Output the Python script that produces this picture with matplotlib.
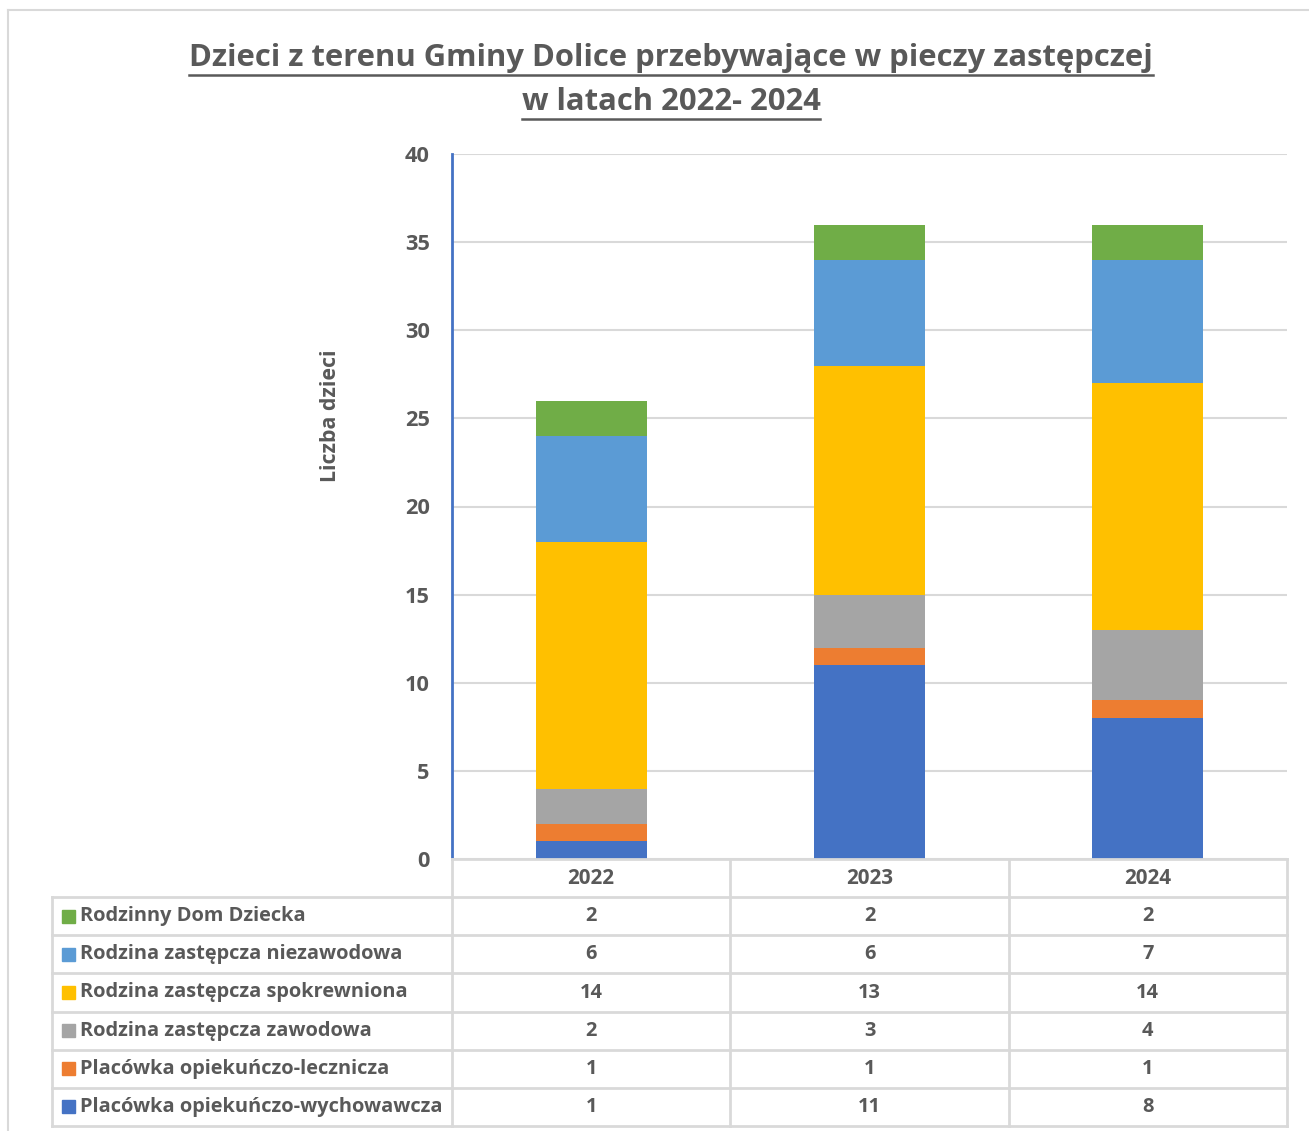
import matplotlib
matplotlib.use("Agg")
import matplotlib.pyplot as plt
from matplotlib.lines import Line2D
from matplotlib.patches import Rectangle
import numpy as np

plt.rcParams['font.family'] = ['Open Sans', 'DejaVu Sans']

## DATA

years = ['2022', '2023', '2024']
series_names = [
    'Placówka opiekuńczo-wychowawcza',
    'Placówka opiekuńczo-lecznicza',
    'Rodzina zastępcza zawodowa',
    'Rodzina zastępcza spokrewniona',
    'Rodzina zastępcza niezawodowa',
    'Rodzinny Dom Dziecka',
]
wychowawcza = [1, 11, 8]
lecznicza = [1, 1, 1]
zawodowa = [2, 3, 4]
spokrewniona = [14, 13, 14]
niezawodowa = [6, 6, 7]
rdd = [2, 2, 2]
series_values = [wychowawcza, lecznicza, zawodowa, spokrewniona, niezawodowa, rdd]
colors = ['#4472C4', '#ED7D31', '#A5A5A5', '#FFC000', '#5B9BD5', '#70AD47']

title_lines = ['Dzieci z terenu Gminy Dolice przebywające w pieczy zastępczej',
               'w latach 2022- 2024']
y_label = 'Liczba dzieci'

TXT = '#595959'
GRID = '#D9D9D9'
W, H = 1309, 1131

fig = plt.figure(figsize=(W / 100, H / 100), dpi=100)
renderer = fig.canvas.get_renderer()


def rect(x0, y0, x1, y1):
    """ pixel box (top-left origin) -> figure fraction rect """
    return [x0 / W, 1 - y1 / H, (x1 - x0) / W, (y1 - y0) / H]


def fit_size(text, target_px, rotation=0):
    """ font size (bold) that makes text about target_px long """
    t = fig.text(0, 0, text, fontsize=10, fontweight='bold', rotation=rotation)
    bb = t.get_window_extent(renderer)
    t.remove()
    length = bb.height if rotation else bb.width
    return 10 * target_px / length


title_fs = fit_size(title_lines[0], 967)
table_fs = fit_size('Placówka opiekuńczo-wychowawcza', 363)
year_fs = fit_size('2022', 47)
tick_fs = fit_size('40', 25)
ylab_fs = fit_size(y_label, 133)

# outer frame of the chart object
fig.add_artist(Line2D([8 / W, 1], [1 - 10 / H, 1 - 10 / H], color=GRID, lw=1.5))
fig.add_artist(Line2D([8 / W, 8 / W], [1 - 10 / H, 0], color=GRID, lw=1.5))

## CHART

ax = fig.add_axes(rect(452, 154, 1287, 859))
x = np.arange(len(years))
bottom = np.zeros(len(years))
for vals, col, name in zip(series_values, colors, series_names):
    ax.bar(x, vals, width=0.4, bottom=bottom, color=col, label=name, zorder=3)
    bottom += np.array(vals)

ax.set_xlim(-0.5, len(years) - 0.5)
ax.set_ylim(0, 40)
ax.set_yticks(np.arange(0, 41, 5))
ax.set_xticks([])
ax.tick_params(axis='y', length=0, pad=16, labelsize=tick_fs, labelcolor=TXT)
for lab in ax.get_yticklabels():
    lab.set_fontweight('bold')
ax.yaxis.grid(True, color=GRID, lw=1.5, zorder=0)
for s in ['top', 'right', 'bottom']:
    ax.spines[s].set_visible(False)
ax.spines['left'].set_color('#4472C4')
ax.spines['left'].set_linewidth(2)
ax.spines['left'].set_zorder(4)
fig.text(330 / W, 1 - 416 / H, y_label, rotation=90, ha='center', va='center',
         fontsize=ylab_fs, fontweight='bold', color=TXT)

## DATA TABLE

col_px = 835 / len(years)
label_w = 400 / col_px
ux = len(years) / 835
n_rows = len(series_names) + 1
uy = n_rows / 267

tax = fig.add_axes(rect(52, 859, 1287, 1126))
x_left = -0.5 - label_w
tax.set_xlim(x_left, len(years) - 0.5)
tax.set_ylim(n_rows, 0)
tax.axis('off')

lkw = dict(color=GRID, lw=2, clip_on=False)
# horizontal lines
tax.plot([-0.5, len(years) - 0.5], [0, 0], **lkw)
for r in range(1, n_rows + 1):
    tax.plot([x_left, len(years) - 0.5], [r, r], **lkw)
# vertical lines
tax.plot([x_left, x_left], [1, n_rows], **lkw)
for c in range(len(years) + 1):
    tax.plot([c - 0.5, c - 0.5], [0, n_rows], **lkw)

for i, yr in enumerate(years):
    tax.text(i, 0.5, yr, ha='center', va='center', fontsize=year_fs,
             fontweight='bold', color=TXT)

table_order = list(range(len(series_names)))[::-1]
for r, k in enumerate(table_order, start=1):
    sq = 13
    tax.add_patch(Rectangle((x_left + 10 * ux, r + 0.5 - sq / 2 * uy), sq * ux, sq * uy,
                            color=colors[k], clip_on=False))
    tax.text(x_left + 28 * ux, r + 0.5, series_names[k], ha='left', va='center',
             fontsize=table_fs, fontweight='bold', color=TXT)
    for i, v in enumerate(series_values[k]):
        tax.text(i, r + 0.5, str(v), ha='center', va='center', fontsize=table_fs,
                 fontweight='bold', color=TXT)

## TITLE (underlined)

title_y = [58, 102]
titles = []
for line, ty in zip(title_lines, title_y):
    titles.append(fig.text(671 / W, 1 - ty / H, line, ha='center', va='center',
                           fontsize=title_fs, fontweight='bold', color=TXT))
fig.canvas.draw()
for t, ty in zip(titles, title_y):
    bb = t.get_window_extent(renderer)
    uy_line = 1 - (ty + 17) / H
    fig.add_artist(Line2D([bb.x0 / W, bb.x1 / W], [uy_line, uy_line], color=TXT, lw=1.8))

fig.savefig('out.png', dpi=100)
